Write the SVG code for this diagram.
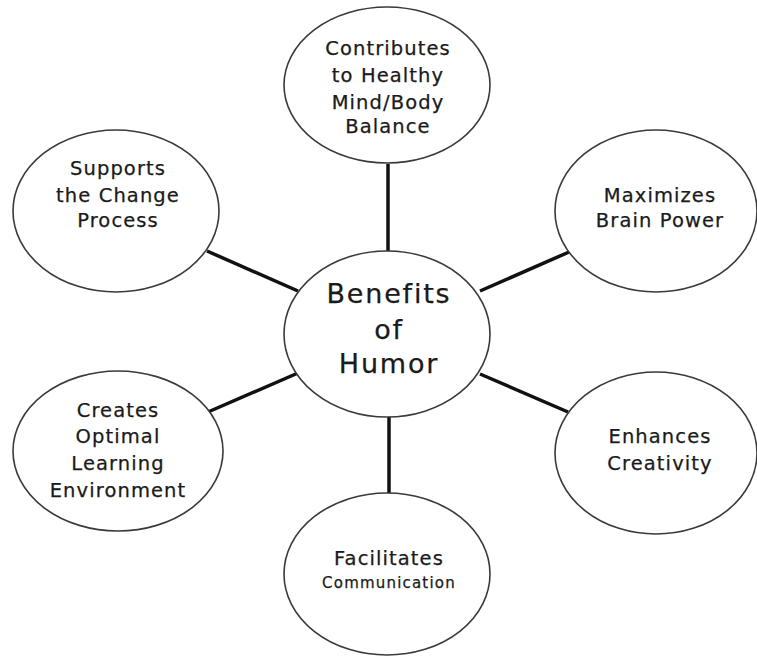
<svg xmlns="http://www.w3.org/2000/svg" width="757" height="657" viewBox="0 0 757 657">
<style>
.node ellipse{fill:#fff;stroke:#3a3a3a;stroke-width:1.6}
.t{font-family:"DejaVu Sans",Verdana,sans-serif;font-size:19.5px;fill:#1a1a1a;text-anchor:middle;letter-spacing:1.1px;stroke:#1a1a1a;stroke-width:0.25}
.c{font-size:27px;letter-spacing:1.8px}
.s{font-size:15px;letter-spacing:1.2px}
.conn line{stroke:#111;stroke-width:3.5}
</style>
<rect width="757" height="657" fill="#fff"/>
<g class="conn">
<line x1="388" y1="164" x2="388" y2="252"/>
<line x1="389" y1="416" x2="389" y2="494"/>
<line x1="207" y1="251" x2="298" y2="291"/>
<line x1="569" y1="252" x2="480" y2="291"/>
<line x1="208" y1="412" x2="298" y2="373"/>
<line x1="568" y1="412" x2="480" y2="374"/>
</g>
<g id="center" class="node">
<ellipse cx="387" cy="334" rx="103" ry="83"/>
<text class="t c" x="389" y="303">Benefits</text>
<text class="t c" x="389" y="339">of</text>
<text class="t c" x="389" y="373">Humor</text>
</g>
<g id="contributes" class="node">
<ellipse cx="387" cy="85" rx="103" ry="78"/>
<text class="t" x="388" y="55">Contributes</text>
<text class="t" x="388" y="82">to Healthy</text>
<text class="t" x="388" y="109">Mind/Body</text>
<text class="t" x="388" y="133">Balance</text>
</g>
<g id="supports" class="node">
<ellipse cx="116" cy="211" rx="103" ry="81"/>
<text class="t" x="118" y="175">Supports</text>
<text class="t" x="118" y="202">the Change</text>
<text class="t" x="118" y="227">Process</text>
</g>
<g id="maximizes" class="node">
<ellipse cx="656" cy="211" rx="101" ry="81"/>
<text class="t" x="660" y="202">Maximizes</text>
<text class="t" x="660" y="227">Brain Power</text>
</g>
<g id="creates" class="node">
<ellipse cx="118" cy="451" rx="105" ry="80"/>
<text class="t" x="118" y="417">Creates</text>
<text class="t" x="118" y="443">Optimal</text>
<text class="t" x="118" y="470">Learning</text>
<text class="t" x="118" y="497">Environment</text>
</g>
<g id="enhances" class="node">
<ellipse cx="656" cy="453" rx="101" ry="81"/>
<text class="t" x="660" y="443">Enhances</text>
<text class="t" x="660" y="470">Creativity</text>
</g>
<g id="facilitates" class="node">
<ellipse cx="387" cy="574" rx="103" ry="81"/>
<text class="t" x="389" y="565">Facilitates</text>
<text class="t s" x="389" y="588">Communication</text>
</g>
</svg>
